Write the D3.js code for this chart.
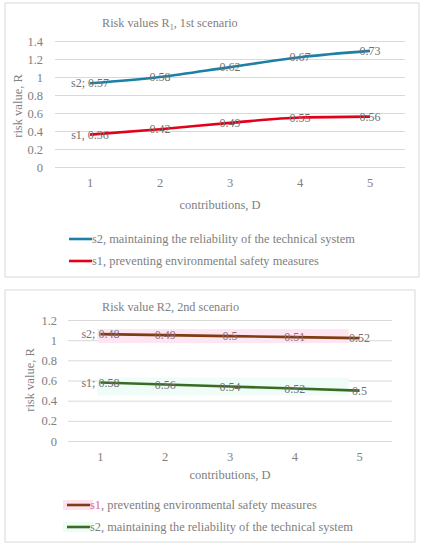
<!DOCTYPE html>
<html>
<head>
<meta charset="utf-8">
<script src="https://cdn.jsdelivr.net/npm/d3@7"></script>
<style>
  body { margin: 0; background: #fff; }
  text { font-family: "Liberation Serif", "DejaVu Serif", serif; }
</style>
</head>
<body>
<svg id="chart" width="425" height="550"></svg>
<script>
// categories and values
var contributions = [1, 2, 3, 4, 5];

var s1Scenario1 = [0.36, 0.42, 0.49, 0.55, 0.56];
var s2Scenario1 = [0.57, 0.58, 0.62, 0.67, 0.73];

var s1Scenario2 = [0.58, 0.56, 0.54, 0.52, 0.5];
var s2Scenario2 = [0.48, 0.49, 0.5, 0.51, 0.52];

var yTicks1 = [0, 0.2, 0.4, 0.6, 0.8, 1, 1.2, 1.4];
var yTicks2 = [0, 0.2, 0.4, 0.6, 0.8, 1, 1.2];

var svg = d3.select("#chart");

function drawChart(opt) {
  var g = svg.append("g");

  // outer frame
  g.append("rect")
    .attr("x", opt.frame[0]).attr("y", opt.frame[1])
    .attr("width", opt.frame[2]).attr("height", opt.frame[3])
    .attr("fill", "#fff").attr("stroke", "#d9d9d9");

  var x = d3.scaleBand().domain(contributions).range([opt.left, opt.right]);
  var y = d3.scaleLinear().domain([0, d3.max(opt.ticks)]).range([opt.bottom, opt.top]);

  // stacked line chart: s1 at the bottom, s2 on top of it
  var rows = contributions.map(function(c, i) {
    return { c: c, s1: opt.s1[i], s2: opt.s2[i] };
  });
  var stacked = d3.stack().keys(["s1", "s2"])(rows);

  // grid + y labels
  var ya = g.append("g").attr("transform", "translate(" + opt.left + ",0)")
    .call(d3.axisLeft(y).tickValues(opt.ticks).tickSize(-(opt.right - opt.left))
      .tickPadding(opt.left - opt.tickRight).tickFormat(function(d) { return d; }));
  ya.select(".domain").remove();
  ya.selectAll("line").attr("stroke", "#d9d9d9");
  ya.selectAll("text").attr("fill", "#808080").style("font-size", "12.5px");

  var xa = g.append("g").attr("transform", "translate(0," + opt.bottom + ")")
    .call(d3.axisBottom(x).tickSize(0).tickPadding(11));
  xa.select(".domain").remove();
  xa.selectAll("text").attr("fill", "#808080").style("font-size", "12.5px");

  // title
  var t = g.append("text").attr("x", opt.titleX).attr("y", opt.titleY)
    .attr("fill", "#808080").style("font-size", "12.2px");
  t.append("tspan").text(opt.title[0]);
  if (opt.title[1]) {
    t.append("tspan").attr("dy", 3).style("font-size", "8px").text(opt.title[1]);
    t.append("tspan").attr("dy", -3).text(opt.title[2]);
  }

  g.append("text")
    .attr("transform", "translate(" + opt.yLabelX + "," + opt.yLabelY + ") rotate(-90)")
    .attr("text-anchor", "middle").attr("fill", "#808080").style("font-size", "12.5px")
    .text("risk value, R");

  g.append("text").attr("x", opt.xLabelX).attr("y", opt.xLabelY)
    .attr("text-anchor", "middle").attr("fill", "#808080").style("font-size", "12.5px")
    .text("contributions, D");

  var line = d3.line()
    .x(function(d) { return x(d.data.c) + x.bandwidth() / 2; })
    .y(function(d) { return y(d[1]); })
    .curve(opt.curve);

  stacked.forEach(function(layer) {
    var key = layer.key;
    if (opt.glow && opt.glow[key]) {
      g.append("rect")
        .attr("x", x(contributions[0]) + x.bandwidth() / 2 - 3)
        .attr("y", d3.min(layer, function(d) { return y(d[1]); }) - 5)
        .attr("width", x(contributions[4]) - x(contributions[0]) - 8)
        .attr("height", Math.abs(y(layer[0][1]) - y(layer[4][1])) + 10)
        .attr("fill", opt.glow[key]);
    }
    g.append("path").datum(layer)
      .attr("d", line).attr("fill", "none")
      .attr("stroke", opt.colors[key]).attr("stroke-width", 2.6);
  });

  // data labels centred on the points
  stacked.forEach(function(layer) {
    var key = layer.key;
    g.selectAll(".lbl-" + key).data(layer).enter().append("text")
      .attr("x", function(d) { return x(d.data.c) + x.bandwidth() / 2; })
      .attr("y", function(d) { return y(d[1]) + 4; })
      .attr("text-anchor", "middle")
      .attr("fill", opt.labelColors[key])
      .style("font-size", "12px")
      .text(function(d, i) {
        var v = String(d.data[key]);
        return i === 0 ? opt.firstLabel[key] + " " + v : v;
      });
  });

  // legend
  opt.legend.forEach(function(it, i) {
    var ly = opt.legendY + i * opt.legendStep;
    if (it.bg) {
      g.append("rect").attr("x", opt.legendX - 4).attr("y", ly - 5)
        .attr("width", 30).attr("height", 10).attr("fill", it.bg);
    }
    g.append("line").attr("x1", opt.legendX).attr("x2", opt.legendX + 23)
      .attr("y1", ly).attr("y2", ly)
      .attr("stroke", opt.colors[it.key]).attr("stroke-width", 2.6);
    var tx = g.append("text").attr("x", opt.legendX + 23).attr("y", ly + 4)
      .attr("fill", "#808080").style("font-size", "12.4px");
    if (it.headColor) {
      tx.append("tspan").attr("fill", it.headColor).text(it.text.slice(0, 2));
      tx.append("tspan").text(it.text.slice(2));
    } else {
      tx.text(it.text);
    }
  });
}

drawChart({
  frame: [5, 3, 414, 274],
  left: 55, right: 405, top: 41, bottom: 167, tickRight: 43,
  ticks: yTicks1,
  s1: s1Scenario1, s2: s2Scenario1,
  curve: d3.curveMonotoneX,
  colors: { s1: "#e3001b", s2: "#1c7fa6" },
  labelColors: { s1: "#6f6f6f", s2: "#6f6f6f" },
  firstLabel: { s1: "s1,", s2: "s2;" },
  title: ["Risk values R", "1", ", 1st scenario"], titleX: 102, titleY: 27,
  yLabelX: 22, yLabelY: 106, xLabelX: 220, xLabelY: 209,
  legendX: 69, legendY: 239, legendStep: 22,
  legend: [
    { key: "s2", text: "s2, maintaining the reliability of the technical system" },
    { key: "s1", text: "s1, preventing environmental safety measures" }
  ]
});

drawChart({
  frame: [5, 290, 410, 252],
  left: 68, right: 392, top: 320, bottom: 441, tickRight: 57,
  ticks: yTicks2,
  s1: s1Scenario2, s2: s2Scenario2,
  curve: d3.curveLinear,
  colors: { s1: "#3a6b22", s2: "#7e3c12" },
  labelColors: { s1: "#6f6f6f", s2: "#8a6878" },
  glow: { s1: "#effcf7", s2: "#fde6f1" },
  firstLabel: { s1: "s1;", s2: "s2;" },
  title: ["Risk value R2, 2nd scenario"], titleX: 102, titleY: 311,
  yLabelX: 34, yLabelY: 380, xLabelX: 230, xLabelY: 479,
  legendX: 67, legendY: 505, legendStep: 22,
  legend: [
    { key: "s2", text: "s1, preventing environmental safety measures", bg: "#fde3ef", headColor: "#e0609a" },
    { key: "s1", text: "s2, maintaining the reliability of the technical system", bg: "#eefcf6" }
  ]
});
</script>
</body>
</html>
